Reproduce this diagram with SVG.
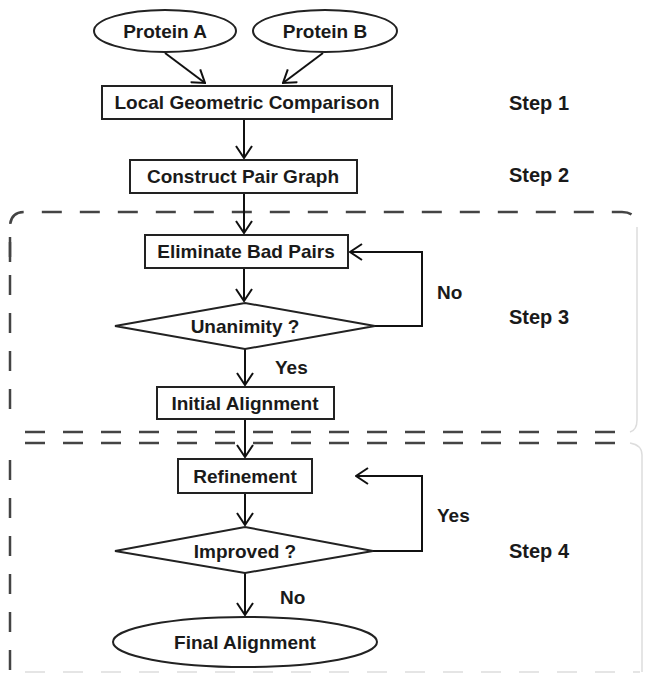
<svg xmlns="http://www.w3.org/2000/svg" width="645" height="681" viewBox="0 0 645 681">
<defs>
<marker id="arr" markerWidth="14" markerHeight="18" refX="13" refY="9" orient="auto" markerUnits="userSpaceOnUse">
<path d="M1,1 L13,9 L1,17" fill="none" stroke="#111" stroke-width="2"/>
</marker>
<style>
.n{fill:#fff;stroke:#222;stroke-width:2}
.t{font-family:"Liberation Sans",Arial,sans-serif;font-weight:bold;font-size:19px;fill:#1a1a1a;text-anchor:middle}
.s{font-family:"Liberation Sans",Arial,sans-serif;font-weight:bold;font-size:19px;fill:#1a1a1a}
.st{font-family:"Liberation Sans",Arial,sans-serif;font-weight:bold;font-size:20px;fill:#1a1a1a}
.c{fill:none;stroke:#111;stroke-width:2}
.d{fill:none;stroke:#444;stroke-width:2.5;stroke-dasharray:20 18}
.f{fill:none;stroke:#ddd;stroke-width:1.5}
</style>
</defs>
<rect width="645" height="681" fill="#fff"/>
<g id="regions">
<path class="d" d="M10,262 L10,227 Q10,212 25,212 L622,212 Q637,212 637,227"/>
<path class="d" d="M10,237 L10,420"/>
<line class="d" x1="25" y1="432" x2="630" y2="432"/>
<path class="f" d="M637,227 L637,420 Q637,430 630,432"/>
<line class="d" x1="25" y1="443" x2="630" y2="443"/>
<path class="f" d="M630,443 Q642,445 642,455 L642,672"/>
<path class="d" d="M10,460 L10,670"/>
<line class="f" x1="25" y1="672" x2="640" y2="672" stroke-dasharray="20 18"/>
</g>
<g id="connectors">
<line class="c" x1="165" y1="53" x2="205" y2="83" marker-end="url(#arr)"/>
<line class="c" x1="323" y1="53" x2="283" y2="83" marker-end="url(#arr)"/>
<line class="c" x1="244" y1="119" x2="244" y2="158" marker-end="url(#arr)"/>
<line class="c" x1="244" y1="193" x2="244" y2="233" marker-end="url(#arr)"/>
<line class="c" x1="244" y1="268" x2="244" y2="301" marker-end="url(#arr)"/>
<polyline class="c" points="375,326 422,326 422,252 350,252" marker-end="url(#arr)"/>
<line class="c" x1="245" y1="349" x2="245" y2="385" marker-end="url(#arr)"/>
<line class="c" x1="245" y1="419" x2="245" y2="457" marker-end="url(#arr)"/>
<line class="c" x1="245" y1="493" x2="245" y2="525" marker-end="url(#arr)"/>
<polyline class="c" points="373,551 422,551 422,476 356,476" marker-end="url(#arr)"/>
<line class="c" x1="245" y1="573" x2="245" y2="615" marker-end="url(#arr)"/>
<text class="s" x="437" y="299">No</text>
<text class="s" x="275" y="374">Yes</text>
<text class="s" x="437" y="522">Yes</text>
<text class="s" x="280" y="604">No</text>
</g>
<g id="proteinA"><ellipse class="n" cx="165" cy="31" rx="71" ry="21"/><text class="t" x="165" y="38">Protein A</text></g>
<g id="proteinB"><ellipse class="n" cx="325" cy="31" rx="72" ry="21"/><text class="t" x="325" y="38">Protein B</text></g>
<g id="local"><rect class="n" x="102" y="86" width="290" height="33"/><text class="t" x="247" y="109">Local Geometric Comparison</text></g>
<g id="construct"><rect class="n" x="130" y="160" width="227" height="33"/><text class="t" x="243" y="183">Construct Pair Graph</text></g>
<g id="eliminate"><rect class="n" x="145" y="235" width="203" height="33"/><text class="t" x="246" y="258">Eliminate Bad Pairs</text></g>
<g id="unanimity"><polygon class="n" points="115,326 245,303 375,326 245,349"/><text class="t" x="245" y="333">Unanimity ?</text></g>
<g id="initial"><rect class="n" x="157" y="387" width="177" height="32"/><text class="t" x="245" y="410">Initial Alignment</text></g>
<g id="refinement"><rect class="n" x="178" y="459" width="134" height="34"/><text class="t" x="245" y="483">Refinement</text></g>
<g id="improved"><polygon class="n" points="115,551 245,527 373,551 245,573"/><text class="t" x="245" y="558">Improved ?</text></g>
<g id="final"><ellipse class="n" cx="245" cy="642" rx="132" ry="25"/><text class="t" x="245" y="649">Final Alignment</text></g>
<g id="steps">
<text class="st" x="509" y="110">Step 1</text>
<text class="st" x="509" y="182">Step 2</text>
<text class="st" x="509" y="324">Step 3</text>
<text class="st" x="509" y="558">Step 4</text>
</g>
</svg>
